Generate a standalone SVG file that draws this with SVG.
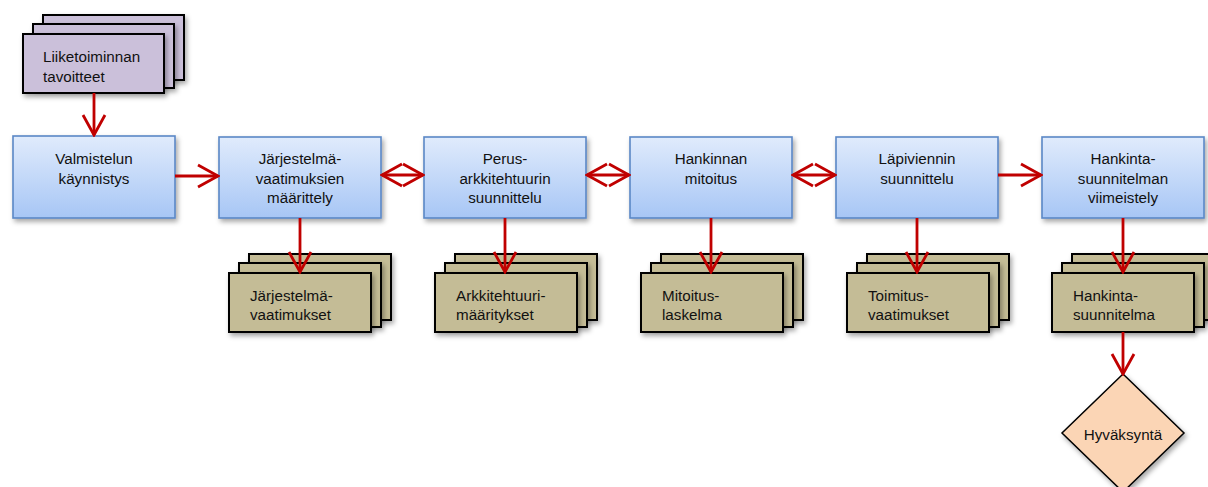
<svg xmlns="http://www.w3.org/2000/svg" width="1208" height="487" viewBox="0 0 1208 487">
<defs>
<linearGradient id="blueGrad" x1="0" y1="0" x2="0" y2="1">
<stop offset="0" stop-color="#e0ebfc"/>
<stop offset="1" stop-color="#a7c6f5"/>
</linearGradient>
<filter id="sh" x="-20%" y="-20%" width="150%" height="160%">
<feDropShadow dx="2" dy="3" stdDeviation="2.5" flood-color="#000" flood-opacity="0.35"/>
</filter>
<marker id="ah" markerWidth="24" markerHeight="26" refX="22" refY="12" orient="auto-start-reverse" markerUnits="userSpaceOnUse" viewBox="0 0 24 24">
<path d="M2,1 L22,12 L2,23" fill="none" stroke="#c00000" stroke-width="2.8"/>
</marker>
</defs>
<style>
.box{fill:url(#blueGrad);stroke:#5a88c6;stroke-width:1.6;filter:url(#sh)}
.doc{fill:#c4bc96;stroke:#000;stroke-width:2;filter:url(#sh)}
.pdoc{fill:#cbc0da;stroke:#000;stroke-width:2;filter:url(#sh)}
.dia{fill:#fbd5b5;stroke:#000;stroke-width:1.5;filter:url(#sh)}
text{font-family:"Liberation Sans",Arial,sans-serif;font-size:15.2px;fill:#111}
.c{text-anchor:middle}
.con{stroke:#c00000;stroke-width:2.8;fill:none;marker-end:url(#ah)}
.dbl{marker-start:url(#ah)}
</style>

<g id="liiketoiminnan">
<rect class="pdoc" x="43" y="15" width="141" height="65"/>
<rect class="pdoc" x="33" y="24" width="141" height="64"/>
<rect class="pdoc" x="23" y="34" width="141" height="59"/>
<text x="43" y="62">Liiketoiminnan</text>
<text x="43" y="82">tavoitteet</text>
</g>

<g id="valmistelun">
<rect class="box" x="13" y="136" width="162" height="82"/>
<text class="c" x="94" y="164">Valmistelun</text>
<text class="c" x="94" y="184">käynnistys</text>
</g>

<g id="jarjestelma-maarittely">
<rect class="box" x="219" y="137" width="162" height="81"/>
<text class="c" x="300" y="164">Järjestelmä-</text>
<text class="c" x="300" y="184">vaatimuksien</text>
<text class="c" x="300" y="203">määrittely</text>
</g>

<g id="perusarkkitehtuuri">
<rect class="box" x="424" y="137" width="162" height="81"/>
<text class="c" x="505" y="164">Perus-</text>
<text class="c" x="505" y="184">arkkitehtuurin</text>
<text class="c" x="505" y="203">suunnittelu</text>
</g>

<g id="hankinnan-mitoitus">
<rect class="box" x="630" y="137" width="162" height="81"/>
<text class="c" x="711" y="164">Hankinnan</text>
<text class="c" x="711" y="184">mitoitus</text>
</g>

<g id="lapiviennin">
<rect class="box" x="836" y="137" width="162" height="81"/>
<text class="c" x="917" y="164">Läpiviennin</text>
<text class="c" x="917" y="184">suunnittelu</text>
</g>

<g id="hankintasuunnitelman-viimeistely">
<rect class="box" x="1042" y="137" width="162" height="81"/>
<text class="c" x="1123" y="164">Hankinta-</text>
<text class="c" x="1123" y="184">suunnitelman</text>
<text class="c" x="1123" y="203">viimeistely</text>
</g>

<g id="jarjestelmavaatimukset">
<rect class="doc" x="249" y="254" width="142" height="66"/>
<rect class="doc" x="239" y="263" width="142" height="64"/>
<rect class="doc" x="229" y="273" width="142" height="59"/>
<text x="250" y="301">Järjestelmä-</text>
<text x="250" y="320">vaatimukset</text>
</g>

<g id="arkkitehtuurimaaritykset">
<rect class="doc" x="455" y="254" width="142" height="66"/>
<rect class="doc" x="445" y="263" width="142" height="64"/>
<rect class="doc" x="435" y="273" width="142" height="59"/>
<text x="456" y="301">Arkkitehtuuri-</text>
<text x="456" y="320">määritykset</text>
</g>

<g id="mitoituslaskelma">
<rect class="doc" x="661" y="254" width="142" height="66"/>
<rect class="doc" x="651" y="263" width="142" height="64"/>
<rect class="doc" x="641" y="273" width="142" height="59"/>
<text x="662" y="301">Mitoitus-</text>
<text x="662" y="320">laskelma</text>
</g>

<g id="toimitusvaatimukset">
<rect class="doc" x="867" y="254" width="142" height="66"/>
<rect class="doc" x="857" y="263" width="142" height="64"/>
<rect class="doc" x="847" y="273" width="142" height="59"/>
<text x="868" y="301">Toimitus-</text>
<text x="868" y="320">vaatimukset</text>
</g>

<g id="hankintasuunnitelma">
<rect class="doc" x="1072" y="254" width="142" height="66"/>
<rect class="doc" x="1062" y="263" width="142" height="64"/>
<rect class="doc" x="1052" y="273" width="142" height="59"/>
<text x="1073" y="301">Hankinta-</text>
<text x="1073" y="320">suunnitelma</text>
</g>

<g id="hyvaksynta">
<polygon class="dia" points="1123,374 1184,433 1123,492 1062,433"/>
<text class="c" x="1123" y="440">Hyväksyntä</text>
</g>

<g id="connectors">
<line class="con" x1="94" y1="93" x2="94" y2="135"/>
<line class="con" x1="175" y1="176" x2="218" y2="176"/>
<line class="con dbl" x1="382" y1="175" x2="423" y2="175"/>
<line class="con dbl" x1="587" y1="175" x2="629" y2="175"/>
<line class="con dbl" x1="793" y1="175" x2="835" y2="175"/>
<line class="con" x1="998" y1="175" x2="1041" y2="175"/>
<line class="con" x1="300" y1="218" x2="300" y2="272"/>
<line class="con" x1="505" y1="218" x2="505" y2="272"/>
<line class="con" x1="711" y1="218" x2="711" y2="272"/>
<line class="con" x1="917" y1="218" x2="917" y2="272"/>
<line class="con" x1="1123" y1="218" x2="1123" y2="272"/>
<line class="con" x1="1123" y1="332" x2="1123" y2="374"/>
</g>
</svg>
